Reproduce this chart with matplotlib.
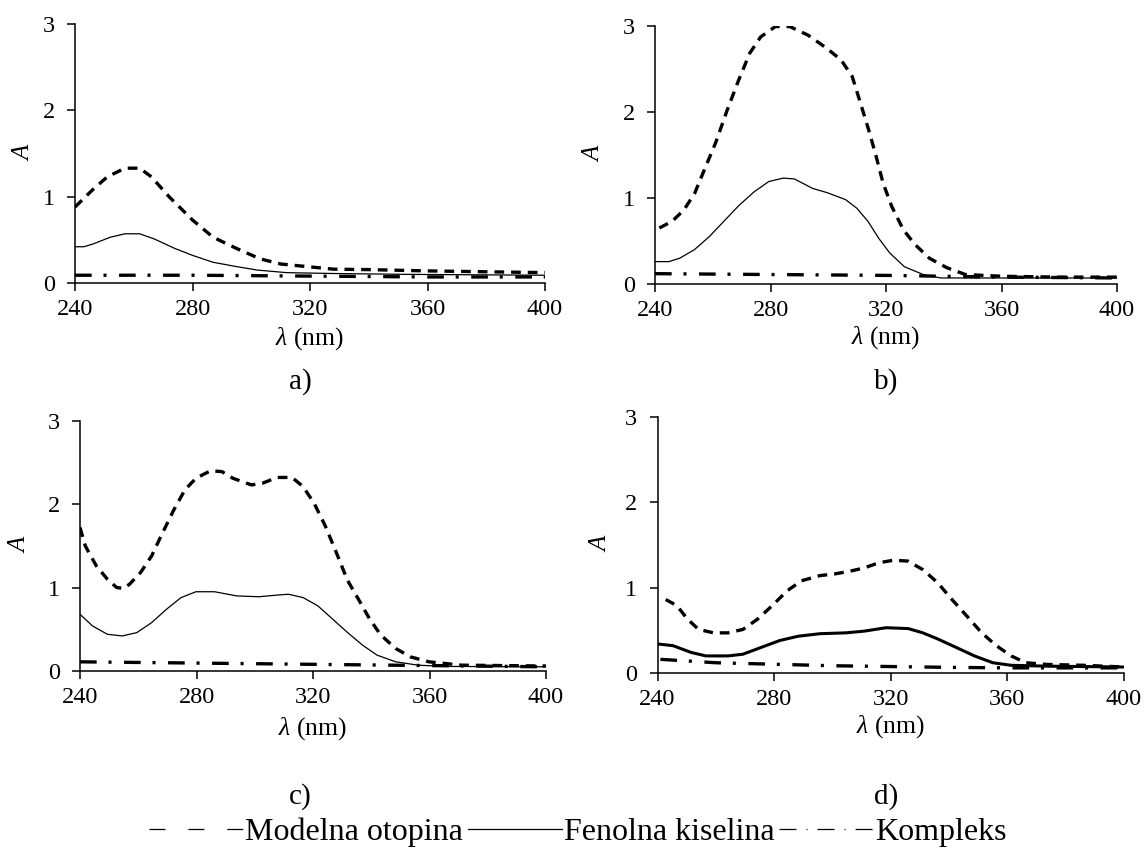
import matplotlib
matplotlib.use("Agg")
import matplotlib.pyplot as plt
from matplotlib.lines import Line2D

plt.rcParams['font.family'] = ['Liberation Serif', 'DejaVu Serif']
plt.rcParams['mathtext.fontset'] = 'custom'
plt.rcParams['mathtext.rm'] = 'Liberation Serif'
plt.rcParams['mathtext.it'] = 'Liberation Serif:italic'
plt.rcParams['lines.scale_dashes'] = False

# --- data (wavelength in nm, absorbance A) ---
# a)
model_a_x = [240, 246, 251, 257, 262, 266, 272, 280, 287, 295, 303, 310, 319, 328, 340, 360, 380, 400]
model_a_y = [0.88, 1.08, 1.23, 1.33, 1.33, 1.23, 1.00, 0.73, 0.53, 0.40, 0.28, 0.22, 0.19, 0.16, 0.155, 0.14, 0.13, 0.12]
phenol_a_x = [240, 243, 246, 252, 257, 262, 267, 274, 280, 287, 295, 302, 312, 328, 353, 400]
phenol_a_y = [0.42, 0.42, 0.45, 0.53, 0.57, 0.57, 0.51, 0.40, 0.32, 0.24, 0.19, 0.15, 0.12, 0.11, 0.10, 0.09]
complex_a_x = [240, 280, 320, 360, 400]
complex_a_y = [0.09, 0.09, 0.08, 0.07, 0.07]

# b)
model_b_x = [241.5, 246, 250, 253.7, 257.5, 261, 265, 269, 272.8, 276.6, 281.7, 286.7, 293, 299.4, 304.5,
             308.3, 310.8, 314, 316.6, 319, 322, 326, 330, 335, 341, 347.5, 360, 380, 400]
model_b_y = [0.65, 0.73, 0.86, 1.05, 1.36, 1.64, 2.02, 2.37, 2.68, 2.87, 2.99, 2.99, 2.89, 2.74, 2.60,
             2.41, 2.14, 1.79, 1.48, 1.17, 0.90, 0.63, 0.46, 0.30, 0.19, 0.11, 0.09, 0.08, 0.08]
phenol_b_x = [240, 244.8, 248.6, 253.7, 258.8, 263.9, 269, 274.3, 279.4, 284.4, 288.3, 294.6, 299.7, 306,
              309.9, 313.7, 317.5, 321.3, 326.4, 332.9, 339, 345, 400]
phenol_b_y = [0.26, 0.26, 0.30, 0.40, 0.55, 0.73, 0.91, 1.07, 1.19, 1.23, 1.22, 1.11, 1.06, 0.98,
              0.88, 0.73, 0.53, 0.36, 0.20, 0.11, 0.07, 0.07, 0.07]
complex_b_x = [240, 280, 320, 360, 400]
complex_b_y = [0.12, 0.11, 0.10, 0.08, 0.07]

# c)
model_c_x = [240, 241.8, 245.6, 249.4, 252.6, 255, 257, 260.8, 264.6, 268.4, 272.2, 276, 279.8, 284.8,
             288.7, 292.5, 298.9, 302.6, 307.7, 312.8, 316.6, 320.4, 324.2, 328, 331.8, 335.6, 339.5,
             343.3, 348.4, 353.4, 359.8, 371, 400]
model_c_y = [1.72, 1.50, 1.26, 1.10, 1.00, 0.99, 1.04, 1.18, 1.38, 1.66, 1.93, 2.17, 2.31, 2.40,
             2.39, 2.31, 2.23, 2.25, 2.32, 2.32, 2.21, 2.01, 1.74, 1.42, 1.09, 0.86, 0.62,
             0.43, 0.27, 0.17, 0.11, 0.07, 0.06]
phenol_c_x = [240, 244.3, 249.4, 254.5, 259.5, 264.6, 269.7, 274.7, 279.8, 286.2, 293.8, 301.4, 307.7,
              311.6, 316.6, 321.7, 326.8, 331.9, 337, 342, 348.4, 356, 364.9, 400]
phenol_c_y = [0.68, 0.54, 0.44, 0.42, 0.46, 0.58, 0.74, 0.88, 0.95, 0.95, 0.90, 0.89, 0.91,
              0.92, 0.88, 0.78, 0.62, 0.46, 0.31, 0.19, 0.11, 0.07, 0.055, 0.05]
complex_c_x = [240, 280, 320, 360, 400]
complex_c_y = [0.11, 0.095, 0.08, 0.065, 0.05]

# d)
model_d_x = [242.8, 246.6, 250.3, 254.1, 259.2, 264.2, 269.3, 274.3, 279.4, 284.4, 289.4, 295.7, 300.8,
             305.8, 310.9, 315.9, 320.9, 325.9, 331, 336, 341, 346, 351.2, 356.2, 361.3, 366.3, 373.8,
             386.4, 400]
model_d_y = [0.86, 0.79, 0.63, 0.51, 0.47, 0.47, 0.51, 0.63, 0.79, 0.96, 1.08, 1.14, 1.16,
             1.19, 1.23, 1.29, 1.32, 1.31, 1.21, 1.06, 0.86, 0.67, 0.47, 0.32, 0.20, 0.12, 0.10,
             0.09, 0.07]
phenol_d_x = [240, 245.3, 251.6, 256.6, 264.2, 269.3, 275.6, 281.9, 288.2, 295.7, 304.6, 310.9, 318.4,
              326, 331, 336, 342.4, 348.7, 355, 361.3, 373.8, 400]
phenol_d_y = [0.34, 0.32, 0.24, 0.20, 0.20, 0.22, 0.30, 0.38, 0.43, 0.46, 0.47, 0.49, 0.53,
              0.52, 0.47, 0.40, 0.30, 0.20, 0.12, 0.09, 0.08, 0.07]
complex_d_x = [241, 260, 300, 340, 360, 400]
complex_d_y = [0.16, 0.12, 0.085, 0.066, 0.06, 0.06]

x_ticks = [240, 280, 320, 360, 400]
y_ticks = [0, 1, 2, 3]
series_names = ["Modelna otopina", "Fenolna kiselina", "Kompleks"]
panel_tags = ["a)", "b)", "c)", "d)"]

W, H = 1146, 857
DASHED = (0, (7, 5))
DASHDOT = (0, (12, 8.5, 2.2, 9))


def drawPanel(rect, model, phenol, cmplx, tag, ylab_dx, xlab_dy, tag_xy, phenol_lw=0.9):
    l, r, y0, y3 = rect
    ax = fig.add_axes([l / W, 1 - y0 / H, (r - l) / W, (y0 - y3) / H])
    ax.plot(model[0], model[1], color='black', lw=2.4, linestyle=DASHED, dash_capstyle='butt')
    ax.plot(phenol[0], phenol[1], color='black', lw=phenol_lw)
    ax.plot(cmplx[0], cmplx[1], color='black', lw=2.4, linestyle=DASHDOT, dash_capstyle='butt')
    ax.set(xlim=(240, 400), ylim=(0, 3))
    ax.set_xticks(x_ticks)
    ax.set_yticks(y_ticks)
    for s in ['top', 'right']:
        ax.spines[s].set_visible(False)
    for s in ['left', 'bottom']:
        ax.spines[s].set_linewidth(1.1)
    ax.tick_params(axis='both', labelsize=17.5, length=5.5, width=1.1, direction='out')
    ax.tick_params(axis='x', pad=6)
    ax.tick_params(axis='y', pad=9)
    ax.set_ylabel("A", fontsize=18, fontstyle='italic', va='center')
    ax.yaxis.set_label_coords(-ylab_dx / (r - l), 0.5)
    ax.set_xlabel(r"$\lambda$ (nm)", fontsize=18.5, va='center')
    ax.xaxis.set_label_coords(0.5, -xlab_dy / (y0 - y3))
    fig.text(tag_xy[0] / W, 1 - tag_xy[1] / H, tag, fontsize=21, ha='center', va='center')
    return ax


fig = plt.figure(figsize=(W / 100, H / 100), dpi=100)

drawPanel((75, 545, 283, 24), (model_a_x, model_a_y), (phenol_a_x, phenol_a_y),
          (complex_a_x, complex_a_y), panel_tags[0], 51, 56, (300, 382))
drawPanel((655, 1117, 284, 25.7), (model_b_x, model_b_y), (phenol_b_x, phenol_b_y),
          (complex_b_x, complex_b_y), panel_tags[1], 61, 54, (886, 382))
drawPanel((80, 546, 671, 420.7), (model_c_x, model_c_y), (phenol_c_x, phenol_c_y),
          (complex_c_x, complex_c_y), panel_tags[2], 60, 58, (300, 797))
drawPanel((657.5, 1124, 673, 416.7), (model_d_x, model_d_y), (phenol_d_x, phenol_d_y),
          (complex_d_x, complex_d_y), panel_tags[3], 56, 54, (886, 797), phenol_lw=2.2)

handles = [
    Line2D([], [], color='black', lw=0.9, linestyle=(0, (11.5, 16.5))),
    Line2D([], [], color='black', lw=0.9),
    Line2D([], [], color='black', lw=0.9, linestyle=(0, (12.2, 7.2, 0.8, 7.2))),
]
fig.legend(handles, series_names, loc='center', bbox_to_anchor=(578 / W, 1 - 832 / H),
           ncol=3, frameon=False, fontsize=23, handlelength=2.95, handletextpad=0.05,
           columnspacing=0.15, borderpad=0)

fig.savefig("out.png", dpi=100)
